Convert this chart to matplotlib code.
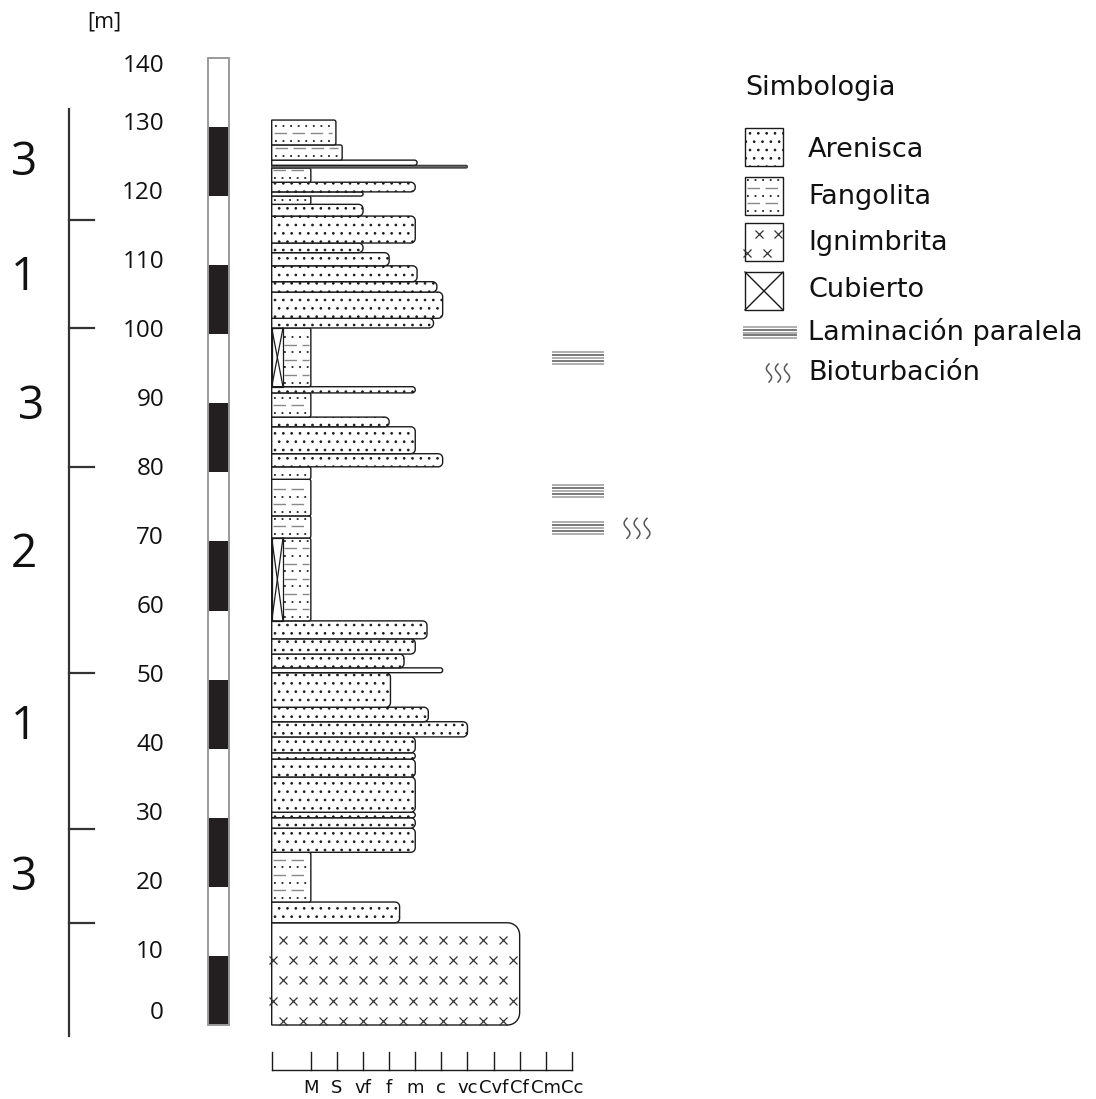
import numpy as np
import matplotlib
matplotlib.use('Agg')
import matplotlib.pyplot as plt
from matplotlib.path import Path
from matplotlib.patches import PathPatch, Rectangle

# ---------------- data ----------------
# beds: bottom [m], top [m], lithology, grain-size width (column units)
# I = Ignimbrita, A = Arenisca, F = Fangolita, C = Cubierto + Fangolita
bed_bottom = [0.0, 14.8, 17.8, 25.0, 28.5, 30.0, 30.8, 35.9, 38.5, 39.4, 41.7,
              43.9, 46.0, 51.0, 51.7, 53.7, 55.9, 58.5, 70.5, 73.7, 79.0, 80.8,
              82.7, 86.6, 88.0, 91.5, 92.4, 100.9, 102.3, 106.1, 107.6, 109.9,
              111.8, 113.2, 117.1, 118.8, 120.0, 120.6, 122.0, 124.05, 124.45,
              125.2, 127.4]
bed_top = [14.8, 17.8, 25.0, 28.5, 30.0, 30.8, 35.9, 38.5, 39.4, 41.7, 43.9,
           46.0, 51.0, 51.7, 53.7, 55.9, 58.5, 70.5, 73.7, 79.0, 80.8, 82.7,
           86.6, 88.0, 91.5, 92.4, 100.9, 102.3, 106.1, 107.6, 109.9, 111.8,
           113.2, 117.1, 118.8, 120.0, 120.6, 122.0, 124.05, 124.45, 125.2,
           127.4, 131.0]
bed_lith = ['I', 'A', 'F', 'A', 'A', 'A', 'A', 'A', 'A', 'A', 'A',
            'A', 'A', 'A', 'A', 'A', 'A', 'C', 'F', 'F', 'F', 'A',
            'A', 'A', 'F', 'A', 'C', 'A', 'A', 'A', 'A', 'A',
            'A', 'A', 'A', 'F', 'A', 'A', 'F', 'A', 'A',
            'F', 'F']
bed_width = [9.5, 4.9, 1.5, 5.5, 5.5, 5.5, 5.5, 5.5, 5.5, 5.5, 7.5,
             6.0, 4.55, 6.55, 5.07, 5.5, 5.95, 1.5, 1.5, 1.5, 1.5, 6.55,
             5.5, 4.5, 1.5, 5.5, 1.5, 6.2, 6.55, 6.33, 5.57, 4.5,
             3.5, 5.5, 3.5, 1.5, 3.5, 5.5, 1.5, 7.5, 5.57,
             2.7, 2.46]

grain_labels = ['M', 'S', 'vf', 'f', 'm', 'c', 'vc', 'Cvf', 'Cf', 'Cm', 'Cc']
grain_pos = [1.5, 2.5, 3.5, 4.5, 5.5, 6.5, 7.5, 8.5, 9.5, 10.5, 11.5]

scale_ticks = [0, 10, 20, 30, 40, 50, 60, 70, 80, 90, 100, 110, 120, 130, 140]

section_bounds = [-1.6, 14.8, 28.4, 51.0, 80.8, 100.9, 116.5, 132.6]
section_labels = ['3', '1', '2', '3', '1', '3']
section_label_y = [21.3, 43.1, 68.0, 89.5, 108.1, 124.8]

lamination_y = [96.6, 77.3, 71.9]
bioturbation_y = [71.9]

legend_labels = ['Arenisca', 'Fangolita', 'Ignimbrita', 'Cubierto',
                 'Laminación paralela', 'Bioturbación']

# ---------------- layout helpers ----------------
PX_X0, PX_UNIT = 271.7, 26.1      # pixel of grain-size 0, pixels per unit
PX_Y0, PX_M = 1025.0, 6.908       # pixel of 0 m, pixels per metre
W, H = 1096, 1099


def X(px):
    return (px - PX_X0) / PX_UNIT


def Y(py):
    return (PX_Y0 - py) / PX_M


EDGE = '#1a1a1a'
plt.rcParams['hatch.linewidth'] = 0.7
plt.rcParams['hatch.color'] = '#222222'

fig = plt.figure(figsize=(W / 100, H / 100), dpi=100)
ax = fig.add_axes([0, 0, 1, 1])
ax.set_xlim(X(0), X(W))
ax.set_ylim(Y(H), Y(0))
ax.axis('off')


def bed_path(x0, x1, y0, y1, r_px):
    h_px = (y1 - y0) * PX_M
    w_px = (x1 - x0) * PX_UNIT
    r = min(r_px, h_px / 2.0, w_px / 2.0)
    rx, ry = r / PX_UNIT, r / PX_M
    verts = [(x0, y0), (x1 - rx, y0)]
    t = np.linspace(-np.pi / 2, 0, 8)
    verts += list(zip(x1 - rx + rx * np.cos(t), y0 + ry + ry * np.sin(t)))
    t = np.linspace(0, np.pi / 2, 8)
    verts += list(zip(x1 - rx + rx * np.cos(t), y1 - ry + ry * np.sin(t)))
    verts += [(x0, y1), (x0, y0)]
    codes = [Path.MOVETO] + [Path.LINETO] * (len(verts) - 2) + [Path.CLOSEPOLY]
    return Path(verts, codes)


def fango_pattern(axx, x0, x1, y0, y1, step):
    rows = np.arange(y0 + step * 0.55, y1 - step * 0.3, step)
    for i, yr in enumerate(rows):
        if i % 2 == 0:
            axx.plot([x0 + 0.05 * (x1 - x0), x1 - 0.06 * (x1 - x0)], [yr, yr],
                     color='#222222', lw=1.3, dashes=(1, 3.2), zorder=4)
        else:
            axx.plot([x0 + 0.04 * (x1 - x0), x1 - 0.06 * (x1 - x0)], [yr, yr],
                     color='#888888', lw=1.0, dashes=(9, 4), zorder=4)


def cross_box(axx, x0, x1, y0, y1, lw=0.9):
    axx.plot([x0, x1], [y0, y1], color=EDGE, lw=lw, zorder=5)
    axx.plot([x0, x1], [y1, y0], color=EDGE, lw=lw, zorder=5)
    axx.add_patch(Rectangle((x0, y0), x1 - x0, y1 - y0, fc='none', ec=EDGE,
                            lw=lw, zorder=5))


# ---------------- column ----------------
CUB_W = X(283)
for b, t, lith, w in zip(bed_bottom, bed_top, bed_lith, bed_width):
    r_px = 12 if lith == 'I' else 4.5
    if lith == 'A':
        if t - b < 0.5:
            p = PathPatch(bed_path(0, w, b, t, r_px), fc='#666666', ec='#333333',
                          lw=0.8, zorder=3)
        else:
            p = PathPatch(bed_path(0, w, b, t, r_px), fc='white', ec=EDGE,
                          lw=1.0, hatch='..', zorder=3)
        ax.add_patch(p)
    elif lith == 'F':
        p = PathPatch(bed_path(0, w, b, t, 2), fc='white', ec=EDGE,
                      lw=1.0, zorder=3)
        ax.add_patch(p)
        fango_pattern(ax, 0, w, b, t, 1.1)
    elif lith == 'C':
        p = PathPatch(bed_path(0, w, b, t, 2), fc='white', ec=EDGE,
                      lw=1.0, zorder=3)
        ax.add_patch(p)
        fango_pattern(ax, CUB_W, w, b, t, 1.1)
        cross_box(ax, 0, CUB_W, b, t)
    elif lith == 'I':
        p = PathPatch(bed_path(0, w, b, t, r_px), fc='white', ec=EDGE,
                      lw=1.0, zorder=3)
        ax.add_patch(p)
        ys = np.arange(t - 2.45, b, -2.95)
        for i, yr in enumerate(ys):
            if i % 2 == 0:
                xs = np.arange(0.42, w - 0.3, 0.766)
            else:
                xs = np.arange(0.04, w - 0.1, 0.766)
            ax.plot(xs, np.full_like(xs, yr), ls='none', marker='x',
                    ms=5.5, mew=0.9, color='#333333', zorder=4)

# ---------------- grain-size axis ----------------
y_axis = Y(1070)
y_tick_top = Y(1052)
ax.plot([0, grain_pos[-1]], [y_axis, y_axis], color=EDGE, lw=1.0)
for gx in [0] + grain_pos:
    ax.plot([gx, gx], [y_axis, y_tick_top], color=EDGE, lw=1.0)
for gx, lab in zip(grain_pos, grain_labels):
    ax.text(gx, Y(1088), lab, ha='center', va='center', fontsize=13,
            family='DejaVu Sans', color='#111111')

# ---------------- metre scale bar ----------------
sx0, sx1 = X(208), X(229)
for i, (a, b) in enumerate(zip(scale_ticks[:-1], scale_ticks[1:])):
    fc = '#231f20' if i % 2 == 0 else 'white'
    ax.add_patch(Rectangle((sx0, a), sx1 - sx0, b - a, fc=fc, ec='none', zorder=2))
ax.add_patch(Rectangle((sx0, scale_ticks[0]), sx1 - sx0,
                       scale_ticks[-1] - scale_ticks[0], fc='none',
                       ec='#9a9a9a', lw=1.4, zorder=3))
for v in scale_ticks:
    ax.text(X(164), np.clip(v + 0.5, 1.7, 138.8), str(v), ha='right', va='center',
            fontsize=17.5, family='Open Sans', color='#111111')
ax.text(X(104), Y(22), '[m]', ha='center', va='center', fontsize=15.5,
        family='Open Sans', color='#111111')

# ---------------- sections bar ----------------
lx = X(69)
ax.plot([lx, lx], [section_bounds[0], section_bounds[-1]], color='#333333', lw=1.6)
for sb in section_bounds[1:-1]:
    ax.plot([lx, X(94)], [sb, sb], color='#333333', lw=1.6)
for i, (lab, ly) in enumerate(zip(section_labels, section_label_y)):
    xpos = X(31) if i == 3 else X(24)
    ax.text(xpos, ly, lab, ha='center', va='center', fontsize=33,
            family='Open Sans', color='#111111')

# ---------------- structures ----------------
def lamination(axx, x0, x1, yc, half, n=5):
    for k, yy in enumerate(np.linspace(yc - half, yc + half, n)):
        axx.plot([x0, x1], [yy, yy], color='#555555' if k % 2 else '#9a9a9a',
                 lw=1.1, solid_capstyle='butt')


def squiggles(axx, xcs, y0, y1, amp):
    t = np.linspace(0, 1, 40)
    for xc in xcs:
        axx.plot(xc + amp * np.sin(2 * np.pi * t), y0 + t * (y1 - y0),
                 color='#555555', lw=1.1)


for yc in lamination_y:
    lamination(ax, X(552), X(604), yc, 0.85)
for yc in bioturbation_y:
    squiggles(ax, [X(627), X(637), X(647)], yc - 1.45, yc + 1.45, 0.11)

# ---------------- legend (pixel overlay) ----------------
lg = fig.add_axes([0, 0, 1, 1], facecolor='none')
lg.set_xlim(0, W)
lg.set_ylim(H, 0)
lg.axis('off')

LFONT = dict(fontsize=19.5, family='DejaVu Sans', color='#111111', va='center')
lg.text(745, 88, 'Simbologia', ha='left', **LFONT)
bx0, bx1 = 745, 783
box_tops = [128, 177, 223, 272]
box_h = 38
label_y = [150, 197, 243, 290, 332, 373]

# Arenisca
lg.add_patch(Rectangle((bx0, box_tops[0]), bx1 - bx0, box_h, fc='white',
                       ec=EDGE, lw=1.0, hatch='..'))
# Fangolita
lg.add_patch(Rectangle((bx0, box_tops[1]), bx1 - bx0, box_h, fc='white',
                       ec=EDGE, lw=1.0))
fango_pattern(lg, bx0, bx1, box_tops[1] + box_h, box_tops[1], -7.6)
# Ignimbrita
lg.add_patch(Rectangle((bx0, box_tops[2]), bx1 - bx0, box_h, fc='white',
                       ec=EDGE, lw=1.0))
bw = bx1 - bx0
for fx, fy in [(0.37, 0.3), (0.87, 0.3), (0.06, 0.8), (0.58, 0.8)]:
    lg.plot(bx0 + fx * bw, box_tops[2] + fy * box_h, marker='x', ms=5.5,
            mew=0.9, color='#333333')
# Cubierto
cross_box(lg, bx0, bx1, box_tops[3], box_tops[3] + box_h, lw=1.0)
# Laminacion
lamination(lg, 743, 797, 332.5, 5.5)
# Bioturbacion
squiggles(lg, [769, 778, 787], 382, 364, 2.6)

for lab, ly in zip(legend_labels, label_y):
    lg.text(808, ly, lab, ha='left', **LFONT)

fig.savefig('out.png', dpi=100, facecolor='white')
